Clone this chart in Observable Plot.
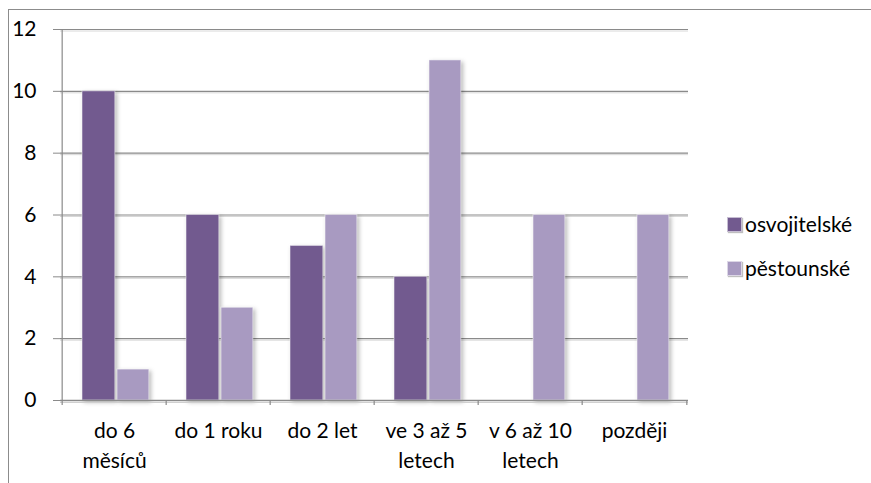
<!DOCTYPE html>
<html>
<head>
<meta charset="utf-8">
<script src="https://cdn.jsdelivr.net/npm/d3@7"></script>
<script src="https://cdn.jsdelivr.net/npm/@observablehq/plot@0.6"></script>
<style>
  html, body { margin: 0; padding: 0; background: #fff; }
  #wrap { position: relative; width: 871px; height: 483px; overflow: hidden; font-family: Lato, "Open Sans", sans-serif; }
  #frame { position: absolute; left: 8px; top: 9px; width: 900px; height: 520px; border: 1px solid #8c8c8c; box-sizing: border-box; pointer-events: none; }
  #chart { position: absolute; left: 0; top: 0; }
  .legend { position: absolute; left: 727px; font-size: 21px; line-height: 24px; color: #000; display: flex; align-items: center; }
  .legend .sw { width: 15px; height: 15px; margin-right: 3px; box-shadow: 1px 1px 1px rgba(0,0,0,0.25); border: 1px solid rgba(255,255,255,0.6); box-sizing: border-box; }
</style>
</head>
<body>
<div id="wrap">
  <div id="chart"></div>
  <div id="frame"></div>
</div>
<script>
const categories = ["do 6\nměsíců", "do 1 roku", "do 2 let", "ve 3 až 5\nletech", "v 6 až 10\nletech", "později"];
const series = ["osvojitelské", "pěstounské"];
const osvojitelske = [10, 6, 5, 4, 0, 0];
const pestounske = [1, 3, 6, 11, 6, 6];
const yTicks = [0, 2, 4, 6, 8, 10, 12];
const colors = ["#725a8f", "#a89ac1"];

const data = [];
categories.forEach((c, i) => {
  data.push({category: c, series: series[0], value: osvojitelske[i]});
  data.push({category: c, series: series[1], value: pestounske[i]});
});

const W = 871, H = 483;
const mL = 60, mR = 183, mT = 29, mB = 83;
const step = (W - mL - mR) / categories.length;

const chart = Plot.plot({
  width: W,
  height: H,
  marginLeft: mL,
  marginRight: mR,
  marginTop: mT,
  marginBottom: mB,
  style: {fontFamily: "Lato, 'Open Sans', sans-serif", fontSize: "21px", color: "#000", background: "transparent"},
  x: {domain: categories, padding: 0, label: null},
  y: {domain: [0, 12], label: null},
  marks: [
    Plot.ruleY(yTicks.filter(t => t > 0), {stroke: "#8a8a8a", strokeWidth: 1.2}),
    Plot.ruleY(yTicks.filter(t => t > 0), {stroke: "#d8d8d8", strokeWidth: 1, dy: 1.5}),
    Plot.barY(data.filter(d => d.series === series[0] && d.value > 0), {
      x: "category", y: "value", fill: colors[0],
      insetLeft: 20, insetRight: step - 53.5, stroke: "#ffffff", strokeOpacity: 0.5, strokeWidth: 1
    }),
    Plot.barY(data.filter(d => d.series === series[1] && d.value > 0), {
      x: "category", y: "value", fill: colors[1],
      insetLeft: 55, insetRight: step - 87.5, stroke: "#ffffff", strokeOpacity: 0.5, strokeWidth: 1
    }),
    Plot.ruleY([0], {stroke: "#8a8a8a", strokeWidth: 1.5}),
    Plot.ruleY([0], {stroke: "#d0d0d0", strokeWidth: 1, dy: 2}),
    Plot.ruleX([0], {x: () => categories[0], dx: -step / 2, y1: 0, y2: 12, stroke: "#8a8a8a", strokeWidth: 1.2}),
    Plot.ruleX(categories, {x: d => d, dx: -step / 2, y1: 0, y2: -5 / 30.9, stroke: "#8a8a8a", strokeWidth: 1.2}),
    Plot.ruleX([categories[categories.length - 1]], {x: d => d, dx: step / 2, y1: 0, y2: -5 / 30.9, stroke: "#8a8a8a", strokeWidth: 1.2}),
    Plot.axisY({ticks: yTicks, tickSize: 7, tickPadding: 17, stroke: "#8a8a8a", fontSize: 21, tickFormat: d => String(d)}),
    Plot.axisX({tickSize: 0, tickPadding: 17, fontSize: 21, lineHeight: 1.4, lineAnchor: "top"})
  ]
});

chart.querySelectorAll('g[aria-label="bar"]').forEach(g => {
  g.style.filter = "drop-shadow(2px 2px 2px rgba(0,0,0,0.28))";
});

document.getElementById("chart").appendChild(chart);

const wrap = document.getElementById("wrap");
const legendTops = [212, 256];
series.forEach((s, i) => {
  const item = document.createElement("div");
  item.className = "legend";
  item.style.top = legendTops[i] + "px";
  const sw = document.createElement("span");
  sw.className = "sw";
  sw.style.background = colors[i];
  const label = document.createElement("span");
  label.textContent = s;
  item.appendChild(sw);
  item.appendChild(label);
  wrap.appendChild(item);
});
</script>
</body>
</html>
